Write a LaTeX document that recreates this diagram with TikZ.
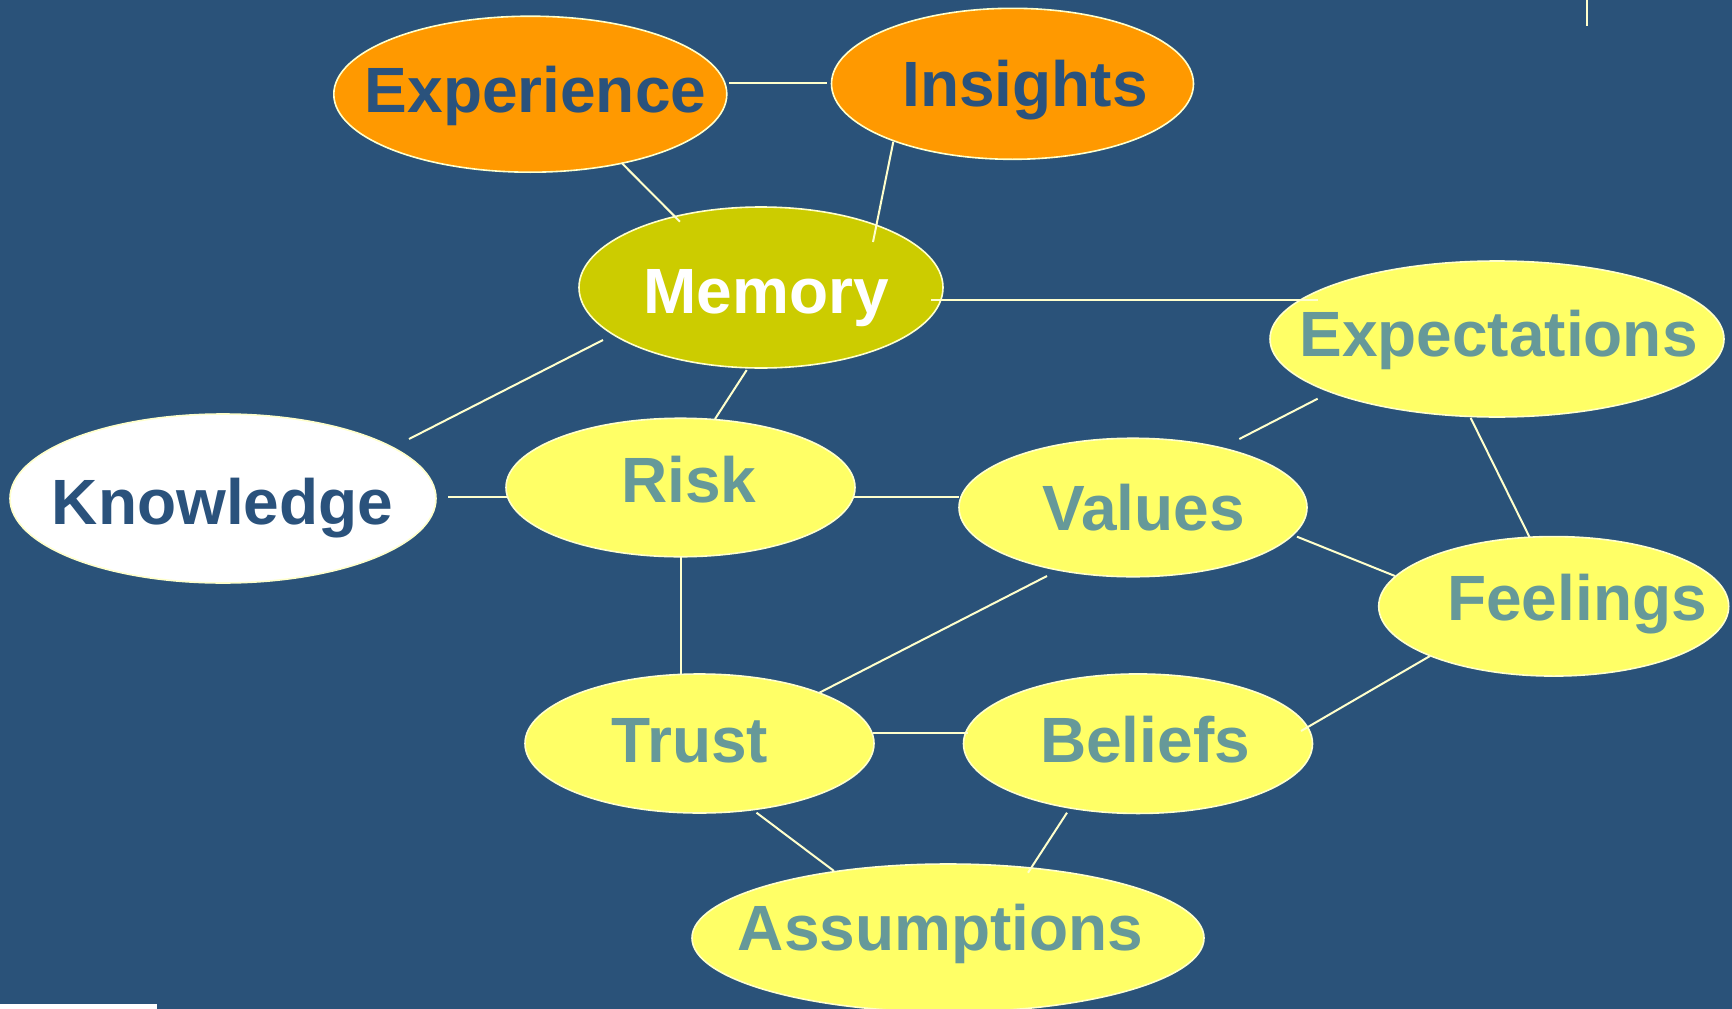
\documentclass[tikz,border=0pt]{standalone}
\usepackage{fontspec}
\setmainfont{Liberation Sans}
\usetikzlibrary{shapes.geometric}
\definecolor{bgblue}{RGB}{42,82,121}
\definecolor{darktxt}{RGB}{42,82,124}
\definecolor{tealtxt}{RGB}{102,153,153}
\definecolor{orangefill}{RGB}{255,153,0}
\definecolor{olivefill}{RGB}{204,204,0}
\definecolor{yellowfill}{RGB}{255,255,102}
\definecolor{paleline}{RGB}{255,255,204}
\tikzset{
  bubble/.style={ellipse, draw=paleline, line width=1.6pt, inner sep=0pt, outer sep=0pt},
  lbl/.style={anchor=base, inner sep=0pt, font=\bfseries\fontsize{64}{64}\selectfont},
  conn/.style={draw=paleline, line width=2pt},
}
\begin{document}
\begin{tikzpicture}[x=1pt,y=-1pt]
\useasboundingbox (0,0) rectangle (1732,1009);
\fill[bgblue] (0,0) rectangle (1732,1009);
% decorations at edges
\coordinate (tl1) at (1587,0);
\coordinate (tl2) at (1587,26);
\draw[paleline, line width=2.5pt] (tl1) -- (tl2);
\fill[white] (0,1004) rectangle (157,1009);
% ellipses
\node[bubble, fill=orangefill, minimum width=393pt, minimum height=156pt] (exp) at (530.3,94.2) {};
\node[bubble, fill=orangefill, minimum width=362pt, minimum height=151pt] (ins) at (1012.5,83.8) {};
\node[bubble, fill=olivefill, minimum width=364pt, minimum height=161pt] (mem) at (761,287.5) {};
\node[bubble, fill=yellowfill, minimum width=454pt, minimum height=156pt] (expc) at (1497,339) {};
\node[bubble, fill=white, minimum width=426pt, minimum height=169pt] (know) at (223,498.5) {};
\node[bubble, fill=yellowfill, minimum width=349pt, minimum height=138.5pt] (risk) at (680.5,487.5) {};
\node[bubble, fill=yellowfill, minimum width=348pt, minimum height=138.5pt] (val) at (1133,507.5) {};
\node[bubble, fill=yellowfill, minimum width=350pt, minimum height=139.5pt] (feel) at (1553.7,606.3) {};
\node[bubble, fill=yellowfill, minimum width=349pt, minimum height=139pt] (trust) at (699.5,743.5) {};
\node[bubble, fill=yellowfill, minimum width=349pt, minimum height=139.5pt] (bel) at (1138,743.7) {};
\node[bubble, fill=yellowfill, minimum width=512pt, minimum height=148pt] (ass) at (948,938) {};
% labels
\node[lbl, text=darktxt] (expL) at (535.5,112) {Experience};
\node[lbl, text=darktxt] (insL) at (1025,106.7) {Insights};
\node[lbl, text=white] (memL) at (766,313) {Memory};
\node[lbl, text=tealtxt] (expcL) at (1498.5,356.7) {Expectations};
\node[lbl, text=darktxt] (knowL) at (222.5,524) {Knowledge};
\node[lbl, text=tealtxt] (riskL) at (689,502.7) {Risk};
\node[lbl, text=tealtxt] (valL) at (1143.5,530) {Values};
\node[lbl, text=tealtxt] (feelL) at (1577,620) {Feelings};
\node[lbl, text=tealtxt] (trustL) at (690,762) {Trust};
\node[lbl, text=tealtxt] (belL) at (1145,762) {Beliefs};
\node[lbl, text=tealtxt] (assL) at (940.5,950) {Assumptions};
% connector end points
\coordinate (c1a) at (729,82.5);   \coordinate (c1b) at (827,82.5);
\coordinate (c2a) at (621.7,163);  \coordinate (c2b) at (680,221.7);
\coordinate (c3a) at (893.3,141.7);\coordinate (c3b) at (873,242);
\coordinate (c4a) at (931,299.5);  \coordinate (c4b) at (1318,299.5);
\coordinate (c5a) at (603,340);    \coordinate (c5b) at (409,439);
\coordinate (c6a) at (746.7,370);  \coordinate (c6b) at (715,419);
\coordinate (c7a) at (448,497.3);  \coordinate (c7b) at (506.7,497.3);
\coordinate (c8a) at (853,497.3);  \coordinate (c8b) at (959,497.3);
\coordinate (c9a) at (680.7,556.7);\coordinate (c9b) at (680.7,675);
\coordinate (c10a) at (1239.3,439);\coordinate (c10b) at (1317.7,398.7);
\coordinate (c11a) at (1470.7,418);\coordinate (c11b) at (1529.6,537.3);
\coordinate (c12a) at (1297,536.7);\coordinate (c12b) at (1395,576);
\coordinate (c13a) at (1047,576);  \coordinate (c13b) at (819.4,692.7);
\coordinate (c14a) at (873,733);   \coordinate (c14b) at (968,733);
\coordinate (c15a) at (1301,731);  \coordinate (c15b) at (1430,656);
\coordinate (c16a) at (756.5,812.7);\coordinate (c16b) at (834,871);
\coordinate (c17a) at (1067,812.7);\coordinate (c17b) at (1028,872.7);
% connectors
\draw[conn] (c1a) -- (c1b);
\draw[conn] (c2a) -- (c2b);
\draw[conn] (c3a) -- (c3b);
\draw[conn] (c4a) -- (c4b);
\draw[conn] (c5a) -- (c5b);
\draw[conn] (c6a) -- (c6b);
\draw[conn] (c7a) -- (c7b);
\draw[conn] (c8a) -- (c8b);
\draw[conn] (c9a) -- (c9b);
\draw[conn] (c10a) -- (c10b);
\draw[conn] (c11a) -- (c11b);
\draw[conn] (c12a) -- (c12b);
\draw[conn] (c13a) -- (c13b);
\draw[conn] (c14a) -- (c14b);
\draw[conn] (c15a) -- (c15b);
\draw[conn] (c16a) -- (c16b);
\draw[conn] (c17a) -- (c17b);
\end{tikzpicture}
\end{document}
